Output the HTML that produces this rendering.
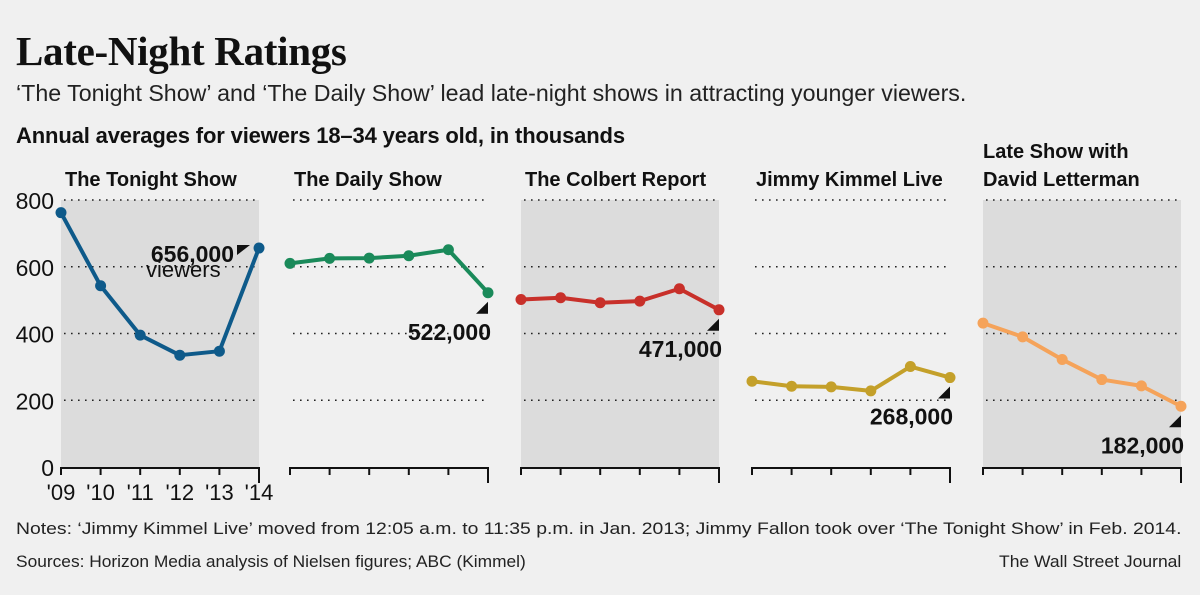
<!DOCTYPE html>
<html><head><meta charset="utf-8"><style>
body{margin:0;width:1200px;height:595px;background:#f0f0f0;font-family:"Liberation Sans",sans-serif;overflow:hidden;position:relative}
.t{position:absolute;white-space:nowrap;color:#111;transform-origin:0 0}
</style></head><body>
<div class="t" style="left:16px;top:27px;font-family:'Liberation Serif',serif;font-weight:bold;font-size:41px;letter-spacing:-0.3px">Late-Night Ratings</div>
<div class="t" style="left:16px;top:80px;font-size:23.2px;color:#222">‘The Tonight Show’ and ‘The Daily Show’ lead late-night shows in attracting younger viewers.</div>
<div class="t" style="left:16px;top:123px;font-size:22px;font-weight:bold;letter-spacing:-0.15px">Annual averages for viewers 18–34 years old, in thousands</div>
<svg id="chart" width="1200" height="595" style="position:absolute;left:0;top:0"></svg>
<div class="t" style="left:16px;top:519px;font-size:17px;color:#222;transform:scaleX(1.14)">Notes: ‘Jimmy Kimmel Live’ moved from 12:05 a.m. to 11:35 p.m. in Jan. 2013; Jimmy Fallon took over ‘The Tonight Show’ in Feb. 2014.</div>
<div class="t" style="left:16px;top:552px;font-size:17px;color:#222;transform:scaleX(1.02)">Sources: Horizon Media analysis of Nielsen figures; ABC (Kimmel)</div>
<div class="t" style="left:999px;top:552px;font-size:17px;color:#222;transform:scaleX(1.03)">The Wall Street Journal</div>
<script>
const shows=["The Tonight Show","The Daily Show","The Colbert Report","Jimmy Kimmel Live","Late Show with|David Letterman"];
const years=["'09","'10","'11","'12","'13","'14"];
const tonight=[762,543,395,335,347,656];
const daily=[610,625,626,633,651,522];
const colbert=[502,507,492,497,534,471];
const kimmel=[257,242,240,228,301,268];
const letterman=[431,390,322,262,243,182];
const labels=["656,000","522,000","471,000","268,000","182,000"];
const yTicks=[0,200,400,600,800];
const series=[tonight,daily,colbert,kimmel,letterman];
const colors=["#0e5a8a","#1a8a5a","#c8302a","#c4a02a","#f5a35a"];
const left=[61,290,521,752,983],W=198,y0=467,y8=200;
const ns="http://www.w3.org/2000/svg",svg=document.getElementById('chart');
function y(v){return y0-(v/800)*(y0-y8);}
function x(p,i){return left[p]+i*W/5;}
function mk(t,a,par){const e=document.createElementNS(ns,t);for(const k in a)e.setAttribute(k,a[k]);(par||svg).appendChild(e);return e;}
yTicks.forEach(v=>{const e=mk('text',{x:54,y:y(v)+9,'text-anchor':'end','font-size':23,fill:'#111'});e.textContent=v;

});
series.forEach((d,p)=>{
  const g=mk('g',{});
  
  
  if(p%2==0)mk('rect',{x:left[p],y:y8,width:W,height:y0-y8,fill:'#dcdcdc'},g);
  [200,400,600,800].forEach(v=>mk('line',{x1:left[p]+3,x2:left[p]+W,y1:y(v),y2:y(v),stroke:'#222','stroke-width':1.6,'stroke-dasharray':'1.6 5.4'},g));
  mk('line',{x1:left[p]-1,x2:left[p]+W+1,y1:y0+1,y2:y0+1,stroke:'#111','stroke-width':2},g);
  years.forEach((yr,i)=>{mk('line',{x1:x(p,i),x2:x(p,i),y1:y0,y2:y0+(i==5?16:8),stroke:'#111','stroke-width':2},g);
    if(p==0){const t=mk('text',{x:x(p,i),y:y0+33,'text-anchor':'middle','font-size':22,fill:'#111'},g);t.textContent=yr;
    
    }});
  const nm=shows[p].split('|');
  nm.forEach((s,k)=>{const t=mk('text',{x:left[p]+(p==4?0:4),y:(nm.length>1?158:186)+k*28,'font-size':20,fill:'#111','font-weight':'bold'},g);t.textContent=s;
  
  });
  const pts=d.map((v,i)=>x(p,i)+','+y(v)).join(' ');
  const l=mk('polyline',{points:pts,fill:'none',stroke:colors[p],'stroke-width':4,'stroke-linejoin':'round'},g);
  
  
  d.forEach((v,i)=>{const c=mk('circle',{cx:x(p,i),cy:y(v),r:5.5,fill:colors[p]},g);
  
  });
  const lx=x(p,5),ly=y(d[5]);
  if(p==0){
    mk('polygon',{points:`${lx-22},${ly-3} ${lx-9},${ly-3} ${lx-22},${ly+7}`,fill:'#111'},g);
    const t=mk('text',{x:lx-25,y:ly+14,'text-anchor':'end','font-size':23,'font-weight':'bold',fill:'#111'},g);t.textContent=labels[p];
    
    
    const t2=mk('text',{x:146,y:ly+29,'font-size':22,fill:'#111'},g);t2.textContent='viewers';
    
    
  }else{
    mk('polygon',{points:`${lx},${ly+9} ${lx},${ly+21} ${lx-12},${ly+21}`,fill:'#111'},g);
    const t=mk('text',{x:lx+3,y:ly+47,'text-anchor':'end','font-size':23,'font-weight':'bold',fill:'#111'},g);t.textContent=labels[p];
    
    
  }
});
</script>
</body></html>
